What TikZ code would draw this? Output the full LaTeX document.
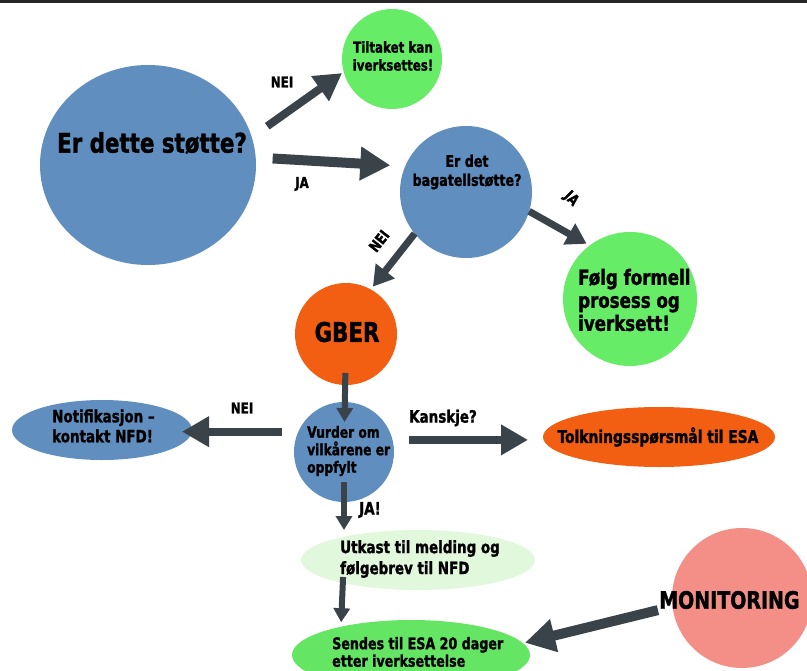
\documentclass[tikz,border=0pt]{standalone}
\usepackage{fontspec}
\newfontfamily\dinfont[FakeStretch=0.88, BoldFeatures={FakeBold=1.3}]{DejaVu Sans Condensed}
\usepackage{xcolor}
\usepackage{tikz}
\usetikzlibrary{arrows.meta, calc, positioning, shapes.geometric}
\definecolor{bobleblaa}{RGB}{96,142,190}
\definecolor{lysgronn}{RGB}{102,236,102}
\definecolor{gronn}{RGB}{100,230,100}
\definecolor{blekgronn}{RGB}{226,248,220}
\definecolor{oransje}{RGB}{242,94,18}
\definecolor{laks}{RGB}{244,143,136}
\definecolor{pilfarge}{RGB}{58,66,74}
\newcommand\fs[2]{\fontsize{#1bp}{#2bp}\selectfont}

\begin{document}
\begin{tikzpicture}[x=1bp, y=-1bp,
    boble/.style={circle, inner sep=0pt, outer sep=0pt},
    oval/.style={ellipse, inner sep=0pt, outer sep=0pt},
    tekst/.style={inner sep=0pt, text=black, align=left},
    tykkpil/.style={draw=pilfarge, line width=10bp, -{Triangle[width=32bp, length=30bp]}},
    mellompil/.style={draw=pilfarge, line width=8bp, -{Triangle[width=29bp, length=27bp]}},
    smalpil/.style={draw=pilfarge, line width=7bp, -{Triangle[width=23bp, length=20bp]}},
    tynnpil/.style={draw=pilfarge, line width=6bp, -{Triangle[width=16bp, length=14bp]}}]
          \clip (0,0) rectangle (807,671);
          \fill[white] (0,0) rectangle (807,671);
          \fill[black!85] (0,0) rectangle (807,3);
          % the bubbles
          \node[oval, fill=bobleblaa, minimum width=216bp, minimum height=200bp] (stoette) at (148,165) {};
          \node[boble, fill=lysgronn, minimum size=100bp] (tiltak) at (392,59) {};
          \node[boble, fill=bobleblaa, minimum size=132bp] (bagatell) at (466,192) {};
          \node[boble, fill=lysgronn, minimum size=134bp] (folg) at (630,299) {};
          \node[boble, fill=oransje, minimum size=102bp] (gber) at (346,334) {};
          \node[boble, fill=bobleblaa, minimum size=100bp] (vurder) at (344,452) {};
          \node[oval, fill=bobleblaa, minimum width=180bp, minimum height=60bp] (notif) at (102,430) {};
          \node[oval, fill=oransje, minimum width=232bp, minimum height=60bp] (tolk) at (659,437) {};
          \node[oval, fill=blekgronn, minimum width=234bp, minimum height=60bp] (utkast) at (418,560) {};
          \node[oval, fill=gronn, minimum width=238bp, minimum height=70bp] (sendes) at (411,655) {};
          \node[boble, fill=laks, minimum size=140bp] (monitor) at (742,598) {};
          % the texts
          \node[tekst, font=\dinfont\bfseries\fs{27}{30}] (stoette-t) at (152,143) {Er dette støtte?};
          \node[tekst, align=center, font=\dinfont\bfseries\fs{15}{18}] (tiltak-t) at (393,56) {Tiltaket kan\\iverksettes!};
          \node[tekst, align=center, font=\dinfont\bfseries\fs{16}{19}] (bagatell-t) at (467,172) {Er det\\bagatellstøtte?};
          \node[tekst, anchor=west, font=\dinfont\bfseries\fs{21}{23}] (folg-t) at (578,300) {Følg formell\\prosess og\\iverksett!};
          \node[tekst, font=\dinfont\bfseries\fs{27}{30}] (gber-t) at (347,332) {GBER};
          \node[tekst, anchor=west, font=\dinfont\bfseries\fs{15.5}{17.5}] (vurder-t) at (307,451) {Vurder om\\vilkårene er\\oppfylt};
          \node[tekst, anchor=west, font=\dinfont\bfseries\fs{17}{20}] (notif-t) at (52,426) {Notifikasjon –\\kontakt NFD!};
          \node[tekst, font=\dinfont\bfseries\fs{17.5}{20}] (tolk-t) at (658,437) {Tolkningsspørsmål til ESA};
          \node[tekst, anchor=west, font=\dinfont\bfseries\fs{17}{21}] (utkast-t) at (340,559) {Utkast til melding og\\følgebrev til NFD};
          \node[tekst, anchor=west, font=\dinfont\bfseries\fs{16}{17.5}] (sendes-t) at (332,652) {Sendes til ESA 20 dager\\etter iverksettelse};
          \node[tekst, anchor=west, font=\dinfont\bfseries\fs{24}{27}] (monitor-t) at (659,600) {MONITORING};
          % arrows between the bubbles
          \draw[mellompil, shorten <=19bp, shorten >=2bp] (stoette.15.8) -- (tiltak.195);
          \draw[tykkpil, shorten <=17bp, shorten >=15bp] (stoette.4.3) -- (bagatell.157);
          \draw[smalpil, shorten >=3.5bp] (bagatell.219) -- (gber.61);
          \draw[smalpil, shorten >=3.5bp] (bagatell.343) -- (folg.127);
          \draw[tynnpil, shorten <=39bp, shorten >=30bp] (gber.center) -- (vurder.center);
          \draw[mellompil, shorten <=16bp, shorten >=-10bp] (vurder.156) -- (vurder.156 -| notif.east);
          \draw[mellompil, shorten <=16.5bp, shorten >=15bp] (vurder.14) -- (vurder.14 -| tolk.west);
          \draw[tynnpil, shorten <=30bp] (vurder.center) -- (vurder.center |- utkast.north);
          \draw[tynnpil, shorten <=-6bp, shorten >=4.5bp] (utkast.197) -- (sendes.158);
          \draw[tykkpil, shorten <=15bp, shorten >=2bp] (monitor.187) -- (sendes.6);
          % labels on the arrows
          \node[tekst, font=\dinfont\bfseries\fs{15}{17}] (nei-a) at (282,82) {NEI};
          \node[tekst, font=\dinfont\bfseries\fs{15}{17}] (ja-a) at (302,184) {JA};
          \node[tekst, rotate=52, font=\dinfont\bfseries\fs{15}{17}] (nei-b) at (379,241) {NEI};
          \node[tekst, rotate=-45, font=\dinfont\bfseries\fs{15}{17}] (ja-b) at (571,199) {JA};
          \node[tekst, font=\dinfont\bfseries\fs{15}{17}] (nei-c) at (242,408) {NEI};
          \node[tekst, font=\dinfont\bfseries\fs{17}{19}] (kanskje) at (443,418) {Kanskje?};
          \node[tekst, font=\dinfont\bfseries\fs{17}{19}] (ja-c) at (370,510) {JA!};
        \end{tikzpicture}
\end{document}
